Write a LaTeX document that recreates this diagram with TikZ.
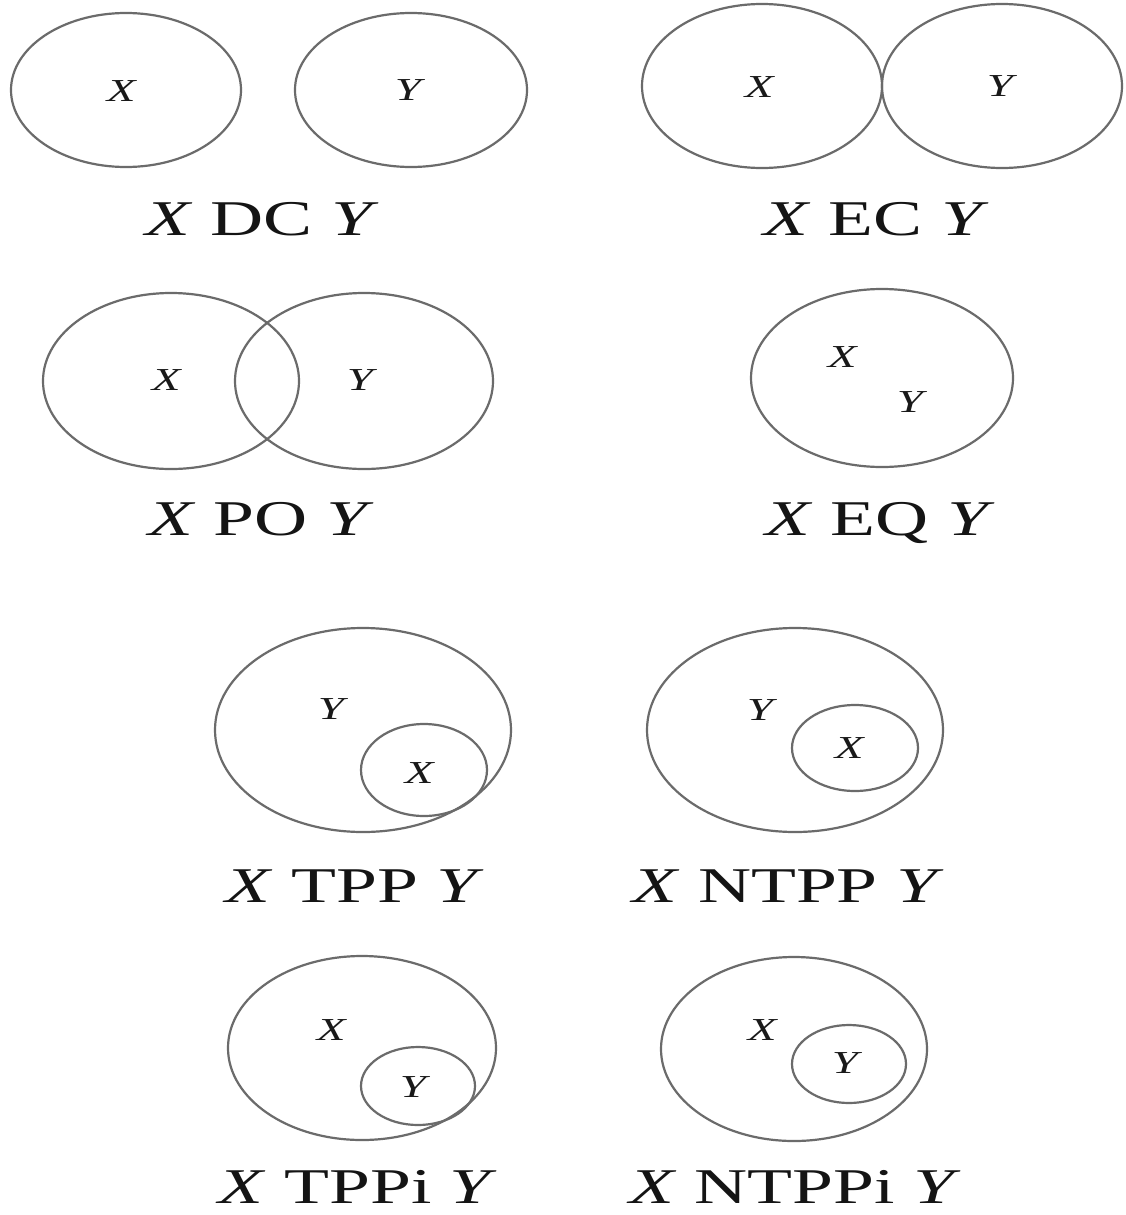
\documentclass[tikz,border=0pt]{standalone}
\usepackage{fontspec}
\setmainfont{Liberation Serif}
\newcommand\hstretch[1]{\scalebox{1.47}[1]{#1}}
\begin{document}
\begin{tikzpicture}[x=0.5pt,y=-0.5pt,
  ring/.style={draw=black!58, line width=1.1pt},
  lbl/.style={font=\fontsize{25}{30}\selectfont, text=black!92, inner sep=0pt, anchor=base},
  tag/.style={font=\fontsize{16}{19}\selectfont, text=black!90, inner sep=0pt}]
\fill[white] (0,0) rectangle (1125,1215);
\useasboundingbox (0,0) rectangle (1125,1215);

% DC
\draw[ring] (126,90) ellipse [x radius=115, y radius=77];
\draw[ring] (411,90) ellipse [x radius=116, y radius=77];
\node[tag] (dcx) at (122,91) {\hstretch{\textit{X}}};
\node[tag] (dcy) at (410,90) {\hstretch{\textit{Y}}};
\node[lbl] (dcl) at (262,235) {\hstretch{\textit{X} DC \textit{Y}}};

% EC
\draw[ring] (762,86) ellipse [x radius=120, y radius=82];
\draw[ring] (1002,86) ellipse [x radius=120, y radius=82];
\node[tag] (ecx) at (760,87) {\hstretch{\textit{X}}};
\node[tag] (ecy) at (1002,86) {\hstretch{\textit{Y}}};
\node[lbl] (ecl) at (876,235) {\hstretch{\textit{X} EC \textit{Y}}};

% PO
\draw[ring] (171,381) ellipse [x radius=128, y radius=88];
\draw[ring] (364,381) ellipse [x radius=129, y radius=88];
\node[tag] (pox) at (167,380) {\hstretch{\textit{X}}};
\node[tag] (poy) at (362,380) {\hstretch{\textit{Y}}};
\node[lbl] (pol) at (261,535) {\hstretch{\textit{X} PO \textit{Y}}};

% EQ
\draw[ring] (882,378) ellipse [x radius=131, y radius=89];
\node[tag] (eqx) at (843,357) {\hstretch{\textit{X}}};
\node[tag] (eqy) at (912,402) {\hstretch{\textit{Y}}};
\node[lbl] (eql) at (880,535) {\hstretch{\textit{X} EQ \textit{Y}}};

% TPP
\draw[ring] (363,730) ellipse [x radius=148, y radius=102];
\draw[ring] (424,770) ellipse [x radius=63, y radius=46];
\node[tag] (tppy) at (333,709) {\hstretch{\textit{Y}}};
\node[tag] (tppx) at (420,773) {\hstretch{\textit{X}}};
\node[lbl] (tppl) at (355,902) {\hstretch{\textit{X} TPP \textit{Y}}};

% NTPP
\draw[ring] (795,730) ellipse [x radius=148, y radius=102];
\draw[ring] (855,748) ellipse [x radius=63, y radius=43];
\node[tag] (ntppy) at (762,710) {\hstretch{\textit{Y}}};
\node[tag] (ntppx) at (850,748) {\hstretch{\textit{X}}};
\node[lbl] (ntppl) at (788,902) {\hstretch{\textit{X} NTPP \textit{Y}}};

% TPPi
\draw[ring] (362,1048) ellipse [x radius=134, y radius=92];
\draw[ring] (418,1086) ellipse [x radius=57, y radius=39];
\node[tag] (tppix) at (332,1030) {\hstretch{\textit{X}}};
\node[tag] (tppiy) at (415,1087) {\hstretch{\textit{Y}}};
\node[lbl] (tppil) at (358,1203) {\hstretch{\textit{X} TPPi \textit{Y}}};

% NTPPi
\draw[ring] (794,1049) ellipse [x radius=133, y radius=92];
\draw[ring] (849,1064) ellipse [x radius=57, y radius=39];
\node[tag] (ntppix) at (763,1030) {\hstretch{\textit{X}}};
\node[tag] (ntppiy) at (847,1063) {\hstretch{\textit{Y}}};
\node[lbl] (ntppil) at (795,1203) {\hstretch{\textit{X} NTPPi \textit{Y}}};
\end{tikzpicture}
\end{document}
